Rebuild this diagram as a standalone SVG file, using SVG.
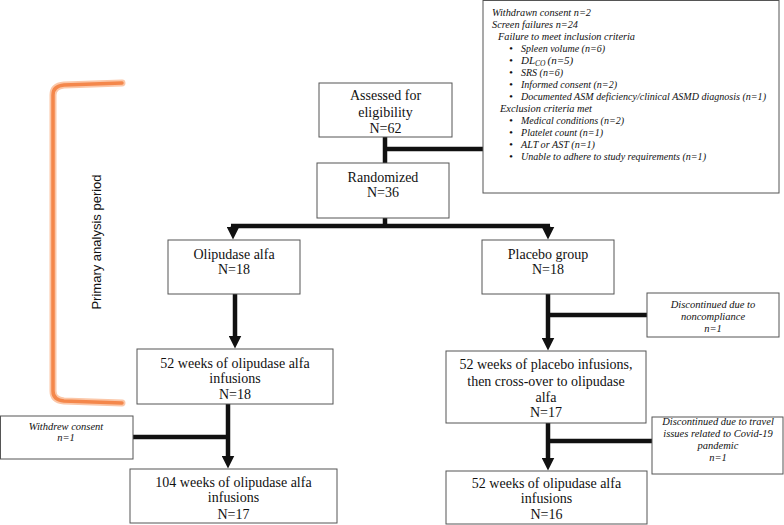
<svg xmlns="http://www.w3.org/2000/svg" width="784" height="525" viewBox="0 0 784 525">
<style>
.box{fill:#fff;stroke:#555;stroke-width:1}
.t{font-family:"Liberation Serif","Times New Roman",serif;font-size:14px;fill:#111;text-anchor:middle}
.s{font-family:"Liberation Serif","Times New Roman",serif;font-size:10.5px;font-style:italic;fill:#111;text-anchor:middle}
.ex{font-family:"Liberation Serif","Times New Roman",serif;font-size:11px;font-style:italic;fill:#111}
.ln{stroke:#111;stroke-width:4.5;fill:none}
.br{fill:none;stroke-linecap:round;stroke-linejoin:round}
</style>
<defs>
<marker id="ah" viewBox="0 0 12 12" refX="6" refY="6" markerWidth="13" markerHeight="13" markerUnits="userSpaceOnUse" orient="auto">
<path d="M0,0 L12,6 L0,12 z" fill="#111"/>
</marker>
</defs>
<rect width="784" height="525" fill="#fff"/>

<g id="bracket">
<path class="br" d="M122,83 L64,85 Q53,86 53,95 L53,391 Q53,400 64,401 L122,403" stroke="#FBC7A8" stroke-width="7"/>
<path class="br" d="M122,83 L64,85 Q53,86 53,95 L53,391 Q53,400 64,401 L122,403" stroke="#F4874B" stroke-width="3.5"/>
<text transform="translate(101,242) rotate(-90)" font-family="'Liberation Sans',Arial,sans-serif" font-size="13" fill="#111" text-anchor="middle">Primary analysis period</text>
</g>

<g id="connectors">
<line class="ln" x1="385" y1="137" x2="385" y2="163"/>
<line class="ln" x1="385" y1="149" x2="483" y2="149"/>
<line class="ln" x1="385" y1="218" x2="385" y2="226"/>
<line class="ln" x1="231" y1="226" x2="550" y2="226"/>
<line class="ln" x1="233" y1="226" x2="233" y2="233" marker-end="url(#ah)"/>
<line class="ln" x1="548" y1="226" x2="548" y2="233" marker-end="url(#ah)"/>
<line class="ln" x1="235" y1="294" x2="235" y2="342" marker-end="url(#ah)"/>
<line class="ln" x1="548" y1="294" x2="548" y2="344" marker-end="url(#ah)"/>
<line class="ln" x1="548" y1="315" x2="647" y2="315"/>
<line class="ln" x1="228" y1="404" x2="228" y2="462" marker-end="url(#ah)"/>
<line class="ln" x1="133" y1="437" x2="228" y2="437"/>
<line class="ln" x1="548" y1="423" x2="548" y2="464" marker-end="url(#ah)"/>
<line class="ln" x1="548" y1="441" x2="652" y2="441"/>
</g>

<g id="exclusion">
<rect class="box" x="483" y="0.5" width="296" height="192.5"/>
<text class="ex" x="492" y="16" textLength="99" lengthAdjust="spacingAndGlyphs">Withdrawn consent n=2</text>
<text class="ex" x="492" y="28" textLength="86" lengthAdjust="spacingAndGlyphs">Screen failures n=24</text>
<text class="ex" x="498" y="40" textLength="137" lengthAdjust="spacingAndGlyphs">Failure to meet inclusion criteria</text>
<text class="ex" x="509" y="52">•</text><text class="ex" x="521" y="52" textLength="84" lengthAdjust="spacingAndGlyphs">Spleen volume (n=6)</text>
<text class="ex" x="509" y="64">•</text><text class="ex" x="521" y="64">DL<tspan style="font-size:7.5px" dy="2">CO</tspan><tspan dx="2" dy="-2">(n=5)</tspan></text>
<text class="ex" x="509" y="76">•</text><text class="ex" x="521" y="76" textLength="42" lengthAdjust="spacingAndGlyphs">SRS (n=6)</text>
<text class="ex" x="509" y="88">•</text><text class="ex" x="521" y="88" textLength="96" lengthAdjust="spacingAndGlyphs">Informed consent (n=2)</text>
<text class="ex" x="509" y="100">•</text><text class="ex" x="521" y="100" style="font-size:10px" textLength="245" lengthAdjust="spacingAndGlyphs">Documented ASM deficiency/clinical ASMD diagnosis (n=1)</text>
<text class="ex" x="500" y="112" textLength="92" lengthAdjust="spacingAndGlyphs">Exclusion criteria met</text>
<text class="ex" x="509" y="124">•</text><text class="ex" x="521" y="124" textLength="103" lengthAdjust="spacingAndGlyphs">Medical conditions (n=2)</text>
<text class="ex" x="509" y="136">•</text><text class="ex" x="521" y="136" textLength="82" lengthAdjust="spacingAndGlyphs">Platelet count (n=1)</text>
<text class="ex" x="509" y="148">•</text><text class="ex" x="521" y="148" textLength="74" lengthAdjust="spacingAndGlyphs">ALT or AST (n=1)</text>
<text class="ex" x="509" y="160">•</text><text class="ex" x="521" y="160" textLength="185" lengthAdjust="spacingAndGlyphs">Unable to adhere to study requirements (n=1)</text>
</g>

<g id="assessed">
<rect class="box" x="319" y="83" width="133" height="54"/>
<text class="t" x="385.5" y="100">Assessed for</text>
<text class="t" x="385.5" y="117">eligibility</text>
<text class="t" x="385.5" y="133">N=62</text>
</g>

<g id="randomized">
<rect class="box" x="317" y="163" width="132" height="55"/>
<text class="t" x="383" y="182">Randomized</text>
<text class="t" x="383" y="197">N=36</text>
</g>

<g id="olipudase">
<rect class="box" x="168" y="240" width="132" height="54"/>
<text class="t" x="234" y="259">Olipudase alfa</text>
<text class="t" x="234" y="274">N=18</text>
</g>

<g id="placebo">
<rect class="box" x="482" y="240" width="132" height="54"/>
<text class="t" x="548" y="259">Placebo group</text>
<text class="t" x="548" y="274">N=18</text>
</g>

<g id="noncompliance">
<rect class="box" x="647" y="293" width="132" height="44"/>
<text class="s" x="713" y="308">Discontinued due to</text>
<text class="s" x="713" y="320">noncompliance</text>
<text class="s" x="713" y="332">n=1</text>
</g>

<g id="olip52">
<rect class="box" x="137" y="349" width="196" height="55"/>
<text class="t" x="235" y="368">52 weeks of olipudase alfa</text>
<text class="t" x="235" y="383">infusions</text>
<text class="t" x="235" y="399">N=18</text>
</g>

<g id="placebo52">
<rect class="box" x="446" y="351" width="200" height="72"/>
<text class="t" x="546" y="369">52 weeks of placebo infusions,</text>
<text class="t" x="546" y="386">then cross-over to olipudase</text>
<text class="t" x="546" y="402">alfa</text>
<text class="t" x="546" y="417">N=17</text>
</g>

<g id="withdrew">
<rect class="box" x="0.5" y="416" width="132.5" height="43"/>
<text class="s" x="66" y="430">Withdrew consent</text>
<text class="s" x="66" y="441">n=1</text>
</g>

<g id="travel">
<rect class="box" x="652" y="417" width="131" height="57"/>
<text class="s" x="718" y="425">Discontinued due to travel</text>
<text class="s" x="718" y="437">issues related  to Covid-19</text>
<text class="s" x="718" y="449">pandemic</text>
<text class="s" x="718" y="461">n=1</text>
</g>

<g id="olip104">
<rect class="box" x="130" y="469" width="207" height="54"/>
<text class="t" x="233.5" y="487">104 weeks of olipudase alfa</text>
<text class="t" x="233.5" y="502">infusions</text>
<text class="t" x="233.5" y="519">N=17</text>
</g>

<g id="olip52b">
<rect class="box" x="446" y="471" width="201" height="53"/>
<text class="t" x="546.5" y="488">52 weeks of olipudase alfa</text>
<text class="t" x="546.5" y="503">infusions</text>
<text class="t" x="546.5" y="519">N=16</text>
</g>
</svg>
